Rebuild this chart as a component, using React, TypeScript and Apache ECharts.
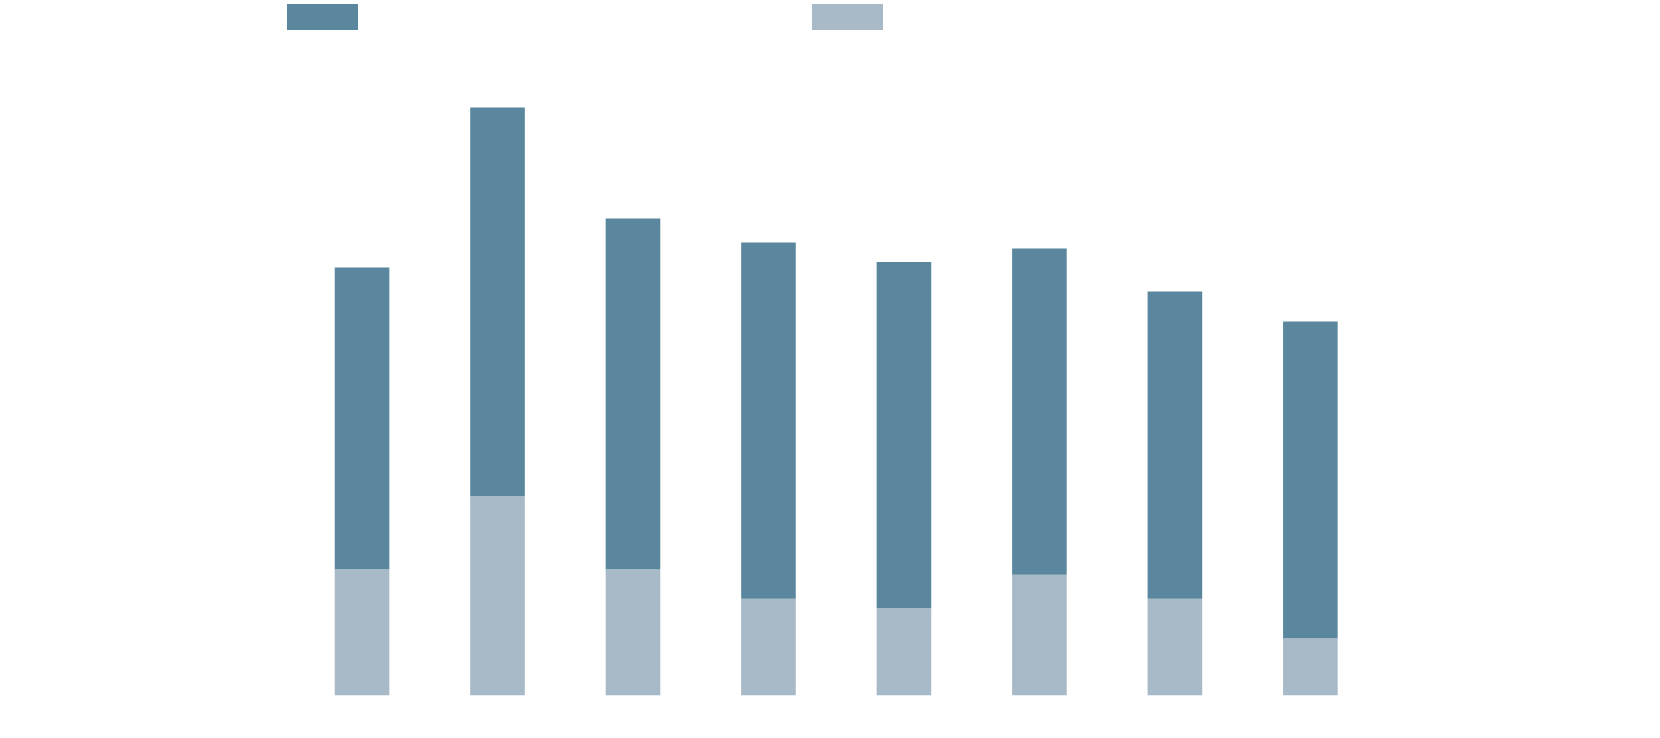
import React, { useEffect, useRef } from "react";
import * as echarts from "echarts";

const categories = ["C1", "C2", "C3", "C4", "C5", "C6", "C7", "C8"];
const baseValues = [25.2, 39.8, 25.2, 19.3, 17.4, 24.1, 19.3, 11.4];
const topValues = [60.3, 77.7, 70.1, 71.2, 69.2, 65.2, 61.4, 63.3];
const seriesNames = ["Series A", "Series B"];
const colors = ["#5a879d", "#a8b9c7"];

export default function App() {
  const ref = useRef<HTMLDivElement>(null);
  useEffect(() => {
    if (!ref.current) return;
    const chart = echarts.init(ref.current, undefined, { renderer: "svg" });
    chart.setOption({
      animation: false,
      legend: [
        {
          data: [seriesNames[0]],
          left: 287,
          top: 4,
          padding: 0,
          itemWidth: 71,
          itemHeight: 26,
          icon: "rect",
          formatter: () => "",
          selectedMode: false,
        },
        {
          data: [seriesNames[1]],
          left: 812,
          top: 4,
          padding: 0,
          itemWidth: 71,
          itemHeight: 26,
          icon: "rect",
          formatter: () => "",
          selectedMode: false,
        },
      ],
      grid: { left: 294.3, right: 281.9, top: 95, bottom: 42.7, containLabel: false },
      xAxis: {
        type: "category",
        data: categories,
        show: false,
      },
      yAxis: {
        type: "value",
        min: 0,
        max: 120,
        show: false,
        splitLine: { show: false },
      },
      series: [
        {
          name: seriesNames[1],
          type: "bar",
          stack: "total",
          data: baseValues,
          barWidth: "40.3%",
          itemStyle: { color: colors[1] },
        },
        {
          name: seriesNames[0],
          type: "bar",
          stack: "total",
          data: topValues,
          barWidth: "40.3%",
          itemStyle: { color: colors[0] },
        },
      ],
    });
    return () => chart.dispose();
  }, []);
  return (
    <div
      ref={ref}
      style={{ position: "fixed", left: 0, top: 0, width: 1660, height: 738, background: "#fff" }}
    />
  );
}
